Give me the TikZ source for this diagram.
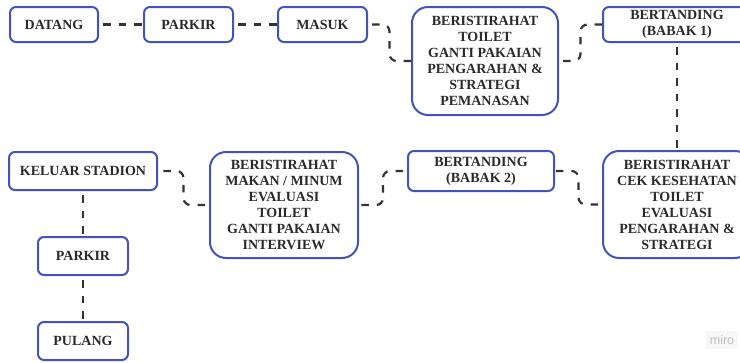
\documentclass[tikz,border=0pt]{standalone}
\usepackage{fontspec}
\setmainfont{Liberation Serif}
\setsansfont{Liberation Sans}
\usetikzlibrary{calc}
\definecolor{boxblue}{HTML}{4253BF}
\definecolor{txt}{HTML}{2A2A2A}
\definecolor{lnk}{HTML}{333333}
\tikzset{
  box/.style={draw=boxblue, line width=2pt, fill=white, rounded corners=6pt,
    align=center, text=txt, font=\bfseries\fontsize{14}{16}\selectfont,
    inner sep=0pt, anchor=center},
  bigbox/.style={box, rounded corners=16pt},
  link/.style={draw=lnk, line width=2.2pt, dash pattern=on 7.5pt off 8pt, dash phase=11.5pt, rounded corners=7pt},
}
\begin{document}
\begin{tikzpicture}[x=1pt,y=-1pt]
\useasboundingbox (0,0) rectangle (740,362);
% top row
\node[box, minimum width=88pt, minimum height=35pt] (datang) at (54,24.5) {DATANG};
\node[box, minimum width=89pt, minimum height=35pt] (parkir1) at (188.5,24.5) {PARKIR};
\node[box, minimum width=89pt, minimum height=35pt] (masuk) at (322.5,24.5) {MASUK};
\node[bigbox, minimum width=146pt, minimum height=108pt] (ber1) at (485,61)
  {BERISTIRAHAT\\TOILET\\GANTI PAKAIAN\\PENGARAHAN \&\\STRATEGI\\PEMANASAN};
\node[box, minimum width=148pt, minimum height=35pt] (bb1) at (677,24.5)
  {BERTANDING\\(BABAK 1)};
% middle row
\node[bigbox, minimum width=148pt, minimum height=107pt] (ber3) at (677,204.5)
  {BERISTIRAHAT\\CEK KESEHATAN\\TOILET\\EVALUASI\\PENGARAHAN \&\\STRATEGI};
\node[box, minimum width=146pt, minimum height=40pt] (bb2) at (481,171)
  {BERTANDING\\(BABAK 2)};
\node[bigbox, minimum width=148pt, minimum height=106pt] (ber2) at (284,205)
  {BERISTIRAHAT\\MAKAN / MINUM\\EVALUASI\\TOILET\\GANTI PAKAIAN\\INTERVIEW};
\node[box, minimum width=148pt, minimum height=38pt] (keluar) at (83,171) {KELUAR STADION};
\node[box, minimum width=90pt, minimum height=38pt] (parkir2) at (83,256) {PARKIR};
\node[box, minimum width=90pt, minimum height=38pt] (pulang) at (83,341) {PULANG};
% watermark
\node[fill=black!3, text=black!25, font=\sffamily\fontsize{12.5}{14}\selectfont, inner sep=4pt] (miro) at (722,340) {miro};
% connectors
\draw[link] (datang.east) -- (parkir1.west);
\draw[link] (parkir1.east) -- (masuk.west);
\draw[link] (masuk.east) -| ($(masuk.east)!.5!(ber1.west)$) |- (ber1.west);
\draw[link] (ber1.east) -| ($(ber1.east)!.5!(bb1.west)$) |- (bb1.west);
\draw[link] (bb1.south) -- (bb1.south |- ber3.north);
\draw[link] (ber3.west) -| ($(ber3.west)!.5!(bb2.east)$) |- (bb2.east);
\draw[link] (bb2.west) -| ($(bb2.west)!.5!(ber2.east)$) |- (ber2.east);
\draw[link] (ber2.west) -| ($(ber2.west)!.5!(keluar.east)$) |- (keluar.east);
\draw[link] (keluar.south) -- (parkir2.north);
\draw[link] (parkir2.south) -- (pulang.north);
\end{tikzpicture}
\end{document}
